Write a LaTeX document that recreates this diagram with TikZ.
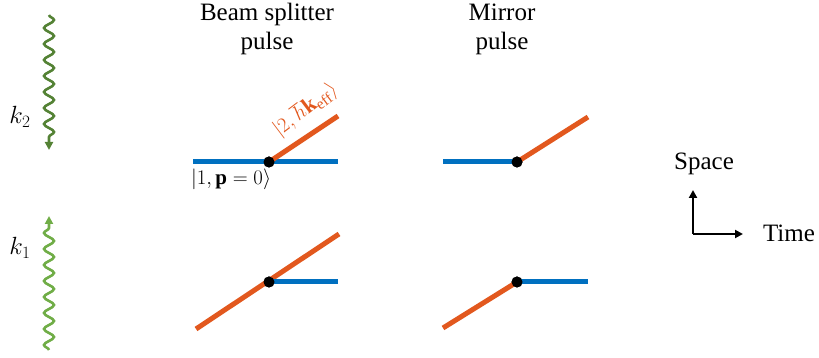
\documentclass[tikz,border=0pt]{standalone}
\usepackage{fontspec}
\setmainfont{Liberation Serif}
\usetikzlibrary{arrows.meta,decorations.pathmorphing}
\definecolor{pathblue}{RGB}{0,112,192}
\definecolor{pathorange}{RGB}{226,88,30}
\definecolor{darkgreen}{RGB}{84,130,53}
\definecolor{lightgreen}{RGB}{112,173,71}
\tikzset{
  path/.style={line width=5pt,line cap=butt},
  vertex/.style={circle,fill=black,minimum size=11pt,inner sep=0pt},
  title/.style={anchor=base,font=\fontsize{25pt}{28pt}\selectfont},
  wavelabel/.style={font=\fontsize{25pt}{27pt}\selectfont},
  laser/.style={line width=2.6pt,decorate,
    decoration={snake,segment length=16pt,amplitude=5pt,post length=9pt},
    -{Triangle[length=8pt,width=8pt]}},
  axis/.style={line width=2.2pt,-{Triangle[length=8pt,width=8pt]}}
}
\begin{document}
\begin{tikzpicture}[x=1pt,y=1pt,every node/.style={inner sep=0pt,outer sep=0pt}]
  \path[use as bounding box] (0,0) rectangle (819,358);  % canvas 819x358px
  % ---- titles ----
  \node[title] (bstop) at (267,337) {Beam splitter};
  \node[title] (bsbot) at (267,308) {pulse};
  \node[title] (mrtop) at (502,337) {Mirror};
  \node[title] (mrbot) at (502,308) {pulse};
  % ---- lasers ----
  \coordinate (k2start) at (49,343);
  \coordinate (k2end)   at (49,208);
  \coordinate (k1start) at (49,8);
  \coordinate (k1end)   at (49,142);
  \draw[laser,darkgreen]  (k2start) -- (k2end);
  \draw[laser,lightgreen] (k1start) -- (k1end);
  \node[wavelabel] (k2) at (20,241) {$k_2$};
  \node[wavelabel] (k1) at (20,110) {$k_1$};
  % ---- beam splitter: upper and lower arms ----
  \node[vertex] (bsup) at (269,196) {};
  \coordinate (bsupin)  at (193,196);
  \coordinate (bsupout) at (338,196);
  \coordinate (bsupkick) at (338,242);
  \draw[path,pathblue] (bsupin) -- (bsupout);
  \draw[path,pathorange] (bsup.center) -- (bsupkick);
  \node[vertex] (bslo) at (269,76) {};
  \coordinate (bsloin)  at (196,29);
  \coordinate (bslokick) at (339,124);
  \coordinate (bsloout) at (338,76);
  \draw[path,pathorange] (bsloin) -- (bslokick);
  \draw[path,pathblue] (bslo.center) -- (bsloout);
  \node[vertex] at (bsup) {};
  \node[vertex] at (bslo) {};
  % ---- mirror: upper and lower arms ----
  \node[vertex] (mrup) at (517,196) {};
  \coordinate (mrupin)  at (443,196);
  \coordinate (mrupout) at (588,241);
  \draw[path,pathblue] (mrupin) -- (mrup.center);
  \draw[path,pathorange] (mrup.center) -- (mrupout);
  \node[vertex] (mrlo) at (517,76) {};
  \coordinate (mrloin)  at (443,30);
  \coordinate (mrloout) at (588,76);
  \draw[path,pathorange] (mrloin) -- (mrlo.center);
  \draw[path,pathblue] (mrlo.center) -- (mrloout);
  \node[vertex] at (mrup) {};
  \node[vertex] at (mrlo) {};
  % ---- state labels ----
  \node[anchor=base west,font=\fontsize{21pt}{23pt}\selectfont] (ground) at (191,173) {$|1,\mathbf{p}=0\rangle$};
  \node[anchor=base west,rotate=37,text=pathorange,font=\fontsize{22pt}{24pt}\selectfont] (excited) at (279,221) {$|2,\hbar\mathbf{k}_{\mathrm{eff}}\rangle$};
  % ---- axes ----
  \coordinate (origin) at (693,124);
  \coordinate (spacetip) at (693,168);
  \coordinate (timetip) at (743,124);
  \draw[axis] (origin) -- (spacetip);
  \draw[axis] (origin) -- (timetip);
  \node[title] (space) at (704,188) {Space};
  \node[title,anchor=base west] (time) at (763,116) {Time};
\end{tikzpicture}
\end{document}
